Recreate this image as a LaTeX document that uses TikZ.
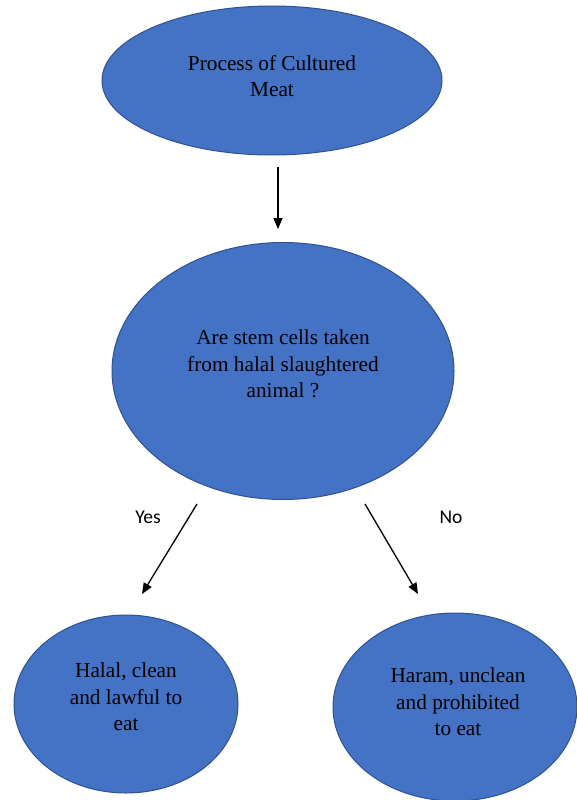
\documentclass[tikz,border=0pt]{standalone}
\usepackage{fontspec}
\setmainfont{Liberation Serif}
\newfontfamily\bodyfont{Liberation Serif}
\newfontfamily\labelfont{Carlito}
\usetikzlibrary{shapes.geometric,arrows.meta}
\definecolor{ofill}{HTML}{4472C4}
\definecolor{oline}{HTML}{2F528F}
\tikzset{
  blob/.style={ellipse, fill=ofill, draw=oline, line width=1pt, inner sep=0pt},
  btext/.style={align=center, font=\bodyfont\fontsize{21.3}{26.5}\selectfont, text=black, inner sep=0pt},
  flow/.style={line width=1.3pt, -{Triangle[length=11pt,width=9pt]}},
  branch/.style={font=\labelfont\fontsize{19.5}{21}\selectfont, inner sep=0pt}
}
\begin{document}
\begin{tikzpicture}[x=1pt,y=-1pt]
\useasboundingbox (0,0) rectangle (576,800);
\node[blob, minimum width=340pt, minimum height=149pt] (top) at (272,80.5) {};
\node[btext] (toptext) at (272,76) {Process of Cultured\\Meat};
\node[blob, minimum width=342pt, minimum height=257pt] (mid) at (283,371) {};
\node[btext] (midtext) at (283,364) {Are stem cells taken\\from halal slaughtered\\animal ?};
\node[blob, minimum width=224pt, minimum height=178pt] (yes) at (126,704) {};
\node[btext] (yestext) at (126,697) {Halal, clean\\and lawful to\\eat};
\node[blob, minimum width=244pt, minimum height=188pt] (no) at (455,707) {};
\node[btext] (notext) at (458,702) {Haram, unclean\\and prohibited\\to eat};
\node[branch] (ylab) at (148,517) {Yes};
\node[branch] (nlab) at (451,517) {No};
\coordinate (a1) at (278,167);
\coordinate (a2) at (278,229);
\coordinate (b1) at (197,504);
\coordinate (b2) at (142,594);
\coordinate (c1) at (365,504);
\coordinate (c2) at (418,594);
\draw[flow] (a1) -- (a2);
\draw[flow] (b1) -- (b2);
\draw[flow] (c1) -- (c2);
\end{tikzpicture}
\end{document}
